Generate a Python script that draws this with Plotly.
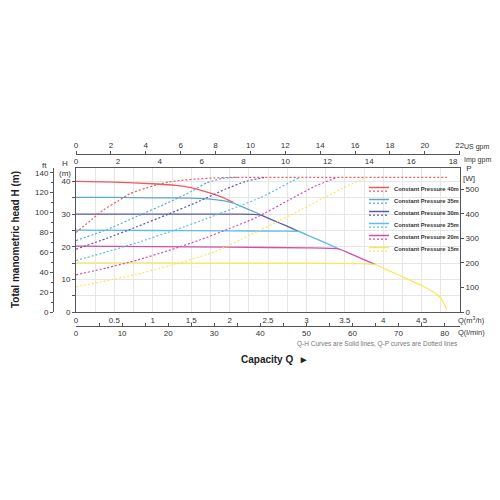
import plotly.graph_objects as go

# pump levels (legend order)
levels = ['40m', '35m', '30m', '25m', '20m', '15m']
colors = ['#ec5a5f', '#5fa8c8', '#5a5aa8', '#5cbcec', '#cf4fae', '#fbe75c']

# Q-H curves, Q in m3/h, H in m (solid lines)
q_h40 = [0, 0.5, 1.0, 1.3, 1.5, 1.75, 1.9, 2.05]
h_h40 = [40.0, 39.8, 39.3, 38.8, 38.1, 36.4, 35.2, 33.6]
q_h35 = [0, 0.5, 1.0, 1.5, 1.75, 1.95, 2.05, 2.2, 2.4]
h_h35 = [35.1, 35.1, 35.0, 34.9, 34.6, 34.0, 33.4, 31.9, 29.9]
q_h30 = [0, 1.0, 2.0, 2.3, 2.4, 2.5, 2.65, 2.8, 2.9]
h_h30 = [30.0, 30.0, 30.0, 29.95, 29.8, 28.8, 27.3, 25.8, 24.7]
q_h25 = [0, 1.0, 2.0, 2.7, 2.9, 3.05, 3.25, 3.42]
h_h25 = [25.1, 25.0, 24.9, 24.8, 24.7, 23.2, 21.2, 19.4]
q_h20 = [0, 1.0, 2.0, 3.0, 3.42, 3.6, 3.75, 3.9]
h_h20 = [20.2, 20.1, 19.9, 19.7, 19.4, 17.6, 16.1, 14.6]
q_h15 = [0, 1.0, 2.0, 3.0, 3.7, 3.9, 4.0, 4.2, 4.5, 4.7, 4.76, 4.8, 4.83]
h_h15 = [15.1, 15.1, 15.0, 15.0, 14.9, 14.6, 13.5, 11.4, 8.2, 5.5, 4.0, 2.2, 0.8]

# Q-P curves, P in W (dotted lines)
q_p40 = [0, 0.2, 0.36, 0.55, 0.7, 0.9, 1.05, 1.2, 1.36, 1.6, 1.8, 2.0, 3.0, 4.0, 4.83]
p_p40 = [324, 375, 416, 452, 481, 503, 517, 528, 535, 541, 545, 547, 547, 547, 547]
q_p35 = [0, 0.4, 0.8, 1.2, 1.5, 1.7, 1.9, 2.1]
p_p35 = [291, 335, 390, 445, 490, 525, 543, 547]
q_p30 = [0, 0.4, 0.8, 1.2, 1.6, 1.95, 2.2, 2.45]
p_p30 = [256, 300, 348, 398, 450, 500, 530, 547]
q_p25 = [0, 0.4, 0.8, 1.3, 1.7, 2.1, 2.4, 2.65, 2.8, 2.92]
p_p25 = [210, 245, 283, 335, 380, 428, 465, 505, 530, 547]
q_p20 = [0, 0.4, 0.8, 1.2, 1.6, 2.0, 2.35, 2.8, 3.1, 3.4]
p_p20 = [152, 180, 212, 250, 292, 340, 385, 460, 510, 547]
q_p15 = [0, 0.4, 0.8, 1.4, 1.8, 2.27, 2.8, 3.22, 3.55, 3.8]
p_p15 = [104, 128, 155, 205, 245, 314, 395, 463, 515, 547]

qh = [(q_h40, h_h40), (q_h35, h_h35), (q_h30, h_h30), (q_h25, h_h25), (q_h20, h_h20), (q_h15, h_h15)]
qp = [(q_p40, p_p40), (q_p35, p_p35), (q_p30, p_p30), (q_p25, p_p25), (q_p20, p_p20), (q_p15, p_p15)]

# tick labels
m3h_ticks = [i * 0.25 for i in range(20)]
m3h_text = [('%g' % v if i % 2 == 0 else '') for i, v in enumerate(m3h_ticks)]
lmin_ticks = list(range(0, 85, 5))
lmin_text = [(str(v) if v % 10 == 0 else '') for v in lmin_ticks]
h_ticks = list(range(0, 45, 5))
h_text = [(str(v) if v % 10 == 0 else '') for v in h_ticks]
ft_ticks = list(range(0, 150, 20))
p_ticks = list(range(0, 600, 100))
imp_ticks = list(range(0, 20, 2))
us_ticks = list(range(0, 24, 2))

H_MAX = 44.2
Q_MAX = 5.0

# the page puts the figure 8px in from the corner, so work in window pixels
OFF = 8
SIZE = 500 - OFF

def px(x):
    return (x - OFF) / SIZE

def py(y):
    return 1 - (y - OFF) / SIZE

fig = go.Figure()

for (q, p), c in zip(qp, colors):
    fig.add_trace(go.Scatter(x=q, y=p, yaxis='y3', mode='lines', showlegend=False,
                             line=dict(color=c, width=1.2, dash='2px,2px', shape='spline', smoothing=0.5)))
for (q, h), c in zip(qh, colors):
    fig.add_trace(go.Scatter(x=q, y=h, mode='lines', showlegend=False,
                             line=dict(color=c, width=1.3, shape='spline', smoothing=0.4)))

# empty traces so the extra scales get drawn
for xa, ya in [('x2', 'y'), ('x3', 'y'), ('x4', 'y'), ('x', 'y2')]:
    fig.add_trace(go.Scatter(x=[None], y=[None], xaxis=xa, yaxis=ya, showlegend=False))

axcol = '#555555'
tf = dict(family='Liberation Sans, Arial', size=8, color='#333333')
dom_x = [px(76), px(460)]
dom_y = [py(312.3), py(167.7)]

fig.update_layout(
    width=SIZE, height=SIZE,
    margin=dict(l=0, r=0, t=0, b=0, autoexpand=False),
    paper_bgcolor='white', plot_bgcolor='white',
    font=dict(family='Liberation Sans, Arial', color='#333333'),
    xaxis=dict(domain=dom_x, range=[0, Q_MAX], tickvals=m3h_ticks, ticktext=m3h_text,
               showgrid=True, gridcolor='#e6e6e6', gridwidth=1, zeroline=False, automargin=False,
               showline=True, linecolor=axcol, linewidth=1, ticks='', tickfont=tf, anchor='y'),
    xaxis2=dict(overlaying='x', side='top', anchor='y', range=[0, Q_MAX / 0.27277],
                tickvals=imp_ticks, showgrid=False, zeroline=False, showline=True, automargin=False,
                linecolor=axcol, linewidth=1, ticks='', tickfont=tf),
    xaxis3=dict(overlaying='x', side='top', anchor='free', position=py(154), range=[0, Q_MAX / 0.22712],
                tickvals=us_ticks, showgrid=False, zeroline=False, showline=True, automargin=False,
                linecolor=axcol, linewidth=1, ticks='outside', ticklen=3, tickcolor=axcol, tickfont=tf),
    xaxis4=dict(overlaying='x', side='bottom', anchor='free', position=py(325.5), range=[0, Q_MAX * 1000 / 60],
                tickvals=lmin_ticks, ticktext=lmin_text, showgrid=False, zeroline=False, showline=True,
                automargin=False, linecolor=axcol, linewidth=1, ticks='inside', ticklen=3,
                tickcolor=axcol, tickfont=tf),
    yaxis=dict(domain=dom_y, range=[0, H_MAX], tickvals=h_ticks, ticktext=h_text,
               showgrid=True, gridcolor='#e6e6e6', gridwidth=1, zeroline=False, automargin=False,
               showline=True, linecolor=axcol, linewidth=1, ticks='outside', ticklen=3,
               tickcolor=axcol, tickfont=tf, anchor='x'),
    yaxis2=dict(overlaying='y', side='left', anchor='free', position=px(53), range=[0, H_MAX * 3.28084],
                tickvals=ft_ticks, showgrid=False, zeroline=False, showline=True, automargin=False,
                linecolor=axcol, linewidth=1, ticks='outside', ticklen=3, tickcolor=axcol, tickfont=tf,
                minor=dict(dtick=10, ticks='outside', ticklen=2, tickcolor=axcol)),
    yaxis3=dict(overlaying='y', side='right', anchor='x', range=[0, H_MAX * 13.27],
                tickvals=p_ticks, showgrid=False, zeroline=False, showline=True, automargin=False,
                linecolor=axcol, linewidth=1, ticks='outside', ticklen=3, tickcolor=axcol, tickfont=tf),
)

ann = []

def note(x, y, text, size=8, xanchor='center', bold=False, color='#333333', angle=0):
    if bold:
        text = '<b>' + text + '</b>'
    ann.append(dict(x=px(x), y=py(y), xref='paper', yref='paper', text=text, showarrow=False,
                    xanchor=xanchor, yanchor='middle', textangle=angle, borderpad=0,
                    font=dict(family='Liberation Sans, Arial', size=size, color=color)))

note(44, 165, 'ft')
note(65, 169, 'H<br>(m)')
note(469, 173, 'P<br>[W]')
note(463, 147.5, 'US gpm', size=7, xanchor='left')
note(463, 160, 'Imp gpm', size=7, xanchor='left')
note(457, 319.5, 'Q(m<sup>3</sup>/h)', size=7.5, xanchor='left')
note(457, 332.5, 'Q(l/min)', size=7.5, xanchor='left')
note(459, 344, 'Q-H Curves are Solid lines, Q-P curves are Dotted lines', size=6.5,
     xanchor='right', color='#777777')
note(275, 359, 'Capacity Q  \u25ba', size=10, bold=True, color='#222222')
note(15, 240, 'Total manometric head H (m)', size=10, bold=True, color='#222222', angle=-90)

shapes = []
for i, (lv, c) in enumerate(zip(levels, colors)):
    yc = 189.3 + 12 * i
    shapes.append(dict(type='line', xref='paper', yref='paper', x0=px(369), x1=px(389),
                       y0=py(yc - 1.8), y1=py(yc - 1.8), line=dict(color=c, width=1.5)))
    shapes.append(dict(type='line', xref='paper', yref='paper', x0=px(369), x1=px(389),
                       y0=py(yc + 1.8), y1=py(yc + 1.8), line=dict(color=c, width=1.3, dash='2px,2px')))
    note(393, yc, 'Constant Pressure ' + lv, size=5.8, xanchor='left', bold=True, color='#333333')

fig.update_layout(annotations=ann, shapes=shapes)

fig.write_html("out.html")
